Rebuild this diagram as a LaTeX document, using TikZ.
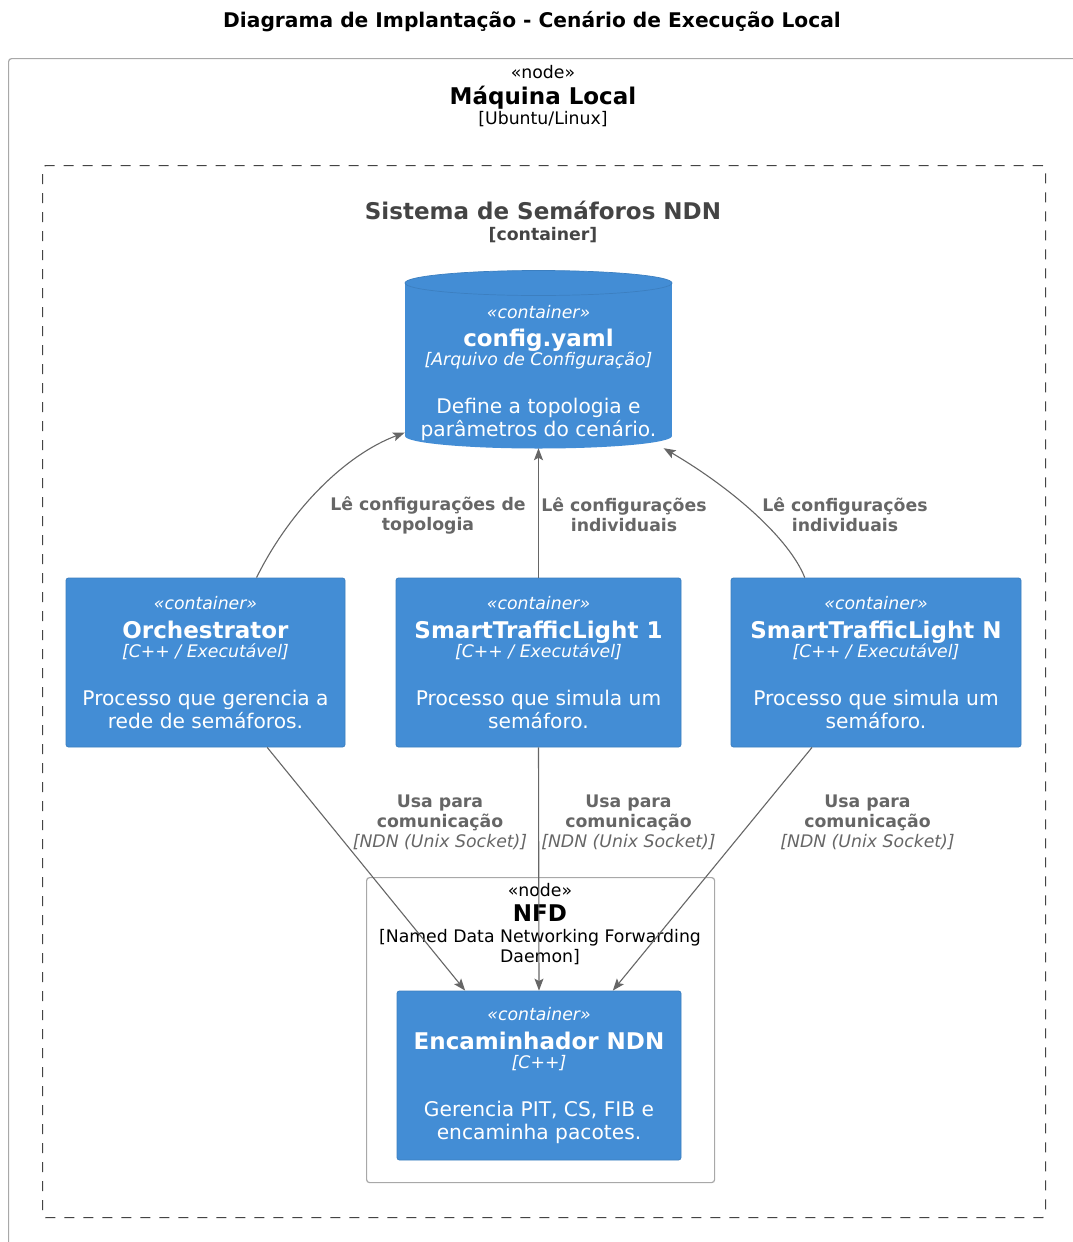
\documentclass[tikz,border=0pt]{standalone}
\usepackage{fontspec}
\setmainfont{DejaVu Sans}
\usetikzlibrary{arrows.meta}

\definecolor{c4blue}{HTML}{438DD5}
\definecolor{c4border}{HTML}{3C7FC0}
\definecolor{relgray}{HTML}{666666}
\definecolor{bndgray}{HTML}{444444}
\definecolor{nodegray}{HTML}{A8A8A8}

% font sizes: small (stereotypes, technology), body (descriptions), name (bold titles)
\newcommand\fsSmall{\fontsize{17.3}{20}\selectfont}
\newcommand\fsBody{\fontsize{20.2}{23}\selectfont}
\newcommand\fsName{\fontsize{23}{25}\selectfont}

% text block of a C4 container: name, technology, two description lines
\newcommand\ctrtext[4]{{\fsSmall\itshape «container»}\\[5.6pt]{\fsName\bfseries #1}\\[-4pt]{\fsSmall\itshape [#2]}\\[24.8pt]#3\\#4}

\begin{document}
\begin{tikzpicture}[x=1pt,y=-1pt,
  ctr/.style={rectangle, rounded corners=2.5pt, fill=c4blue, draw=c4border, line width=0.8pt,
    text=white, align=center, inner sep=0pt, minimum height=169pt, font=\fsBody},
  deploy/.style={rectangle, rounded corners=3pt, draw=nodegray, line width=1.2pt, inner sep=0pt},
  boundary/.style={rectangle, rounded corners=3pt, draw=bndgray, line width=1.2pt,
    dash pattern=on 10pt off 9pt, inner sep=0pt},
  rel/.style={draw=relgray, line width=1.1pt, -{Stealth[length=12pt,width=9pt,inset=2.5pt]}},
  rellabel/.style={text=relgray, align=center, inner sep=0pt, font=\fsSmall\bfseries},
  nodelabel/.style={align=center, inner sep=0pt, font=\fsBody}]

\useasboundingbox (0,0) rectangle (1073,1242);
\clip (0,0) rectangle (1073,1242);
\fill[white] (0,0) rectangle (1073,1242);

% title
\node[inner sep=0pt, font=\fontsize{20.2}{24}\selectfont\bfseries] (title) at (532,22)
  {Diagrama de Implantação - Cenário de Execução Local};

% deployment node: local machine
\node[deploy, minimum width=1100pt, minimum height=1220pt, anchor=north west] (maquina) at (8,58) {};
\node[nodelabel] (maquinalabel) at (543,96)
  {{\fsSmall «node»}\\[3pt]{\fsName\bfseries Máquina Local}\\[-3pt]{\fsSmall [Ubuntu/Linux]}};

% system boundary
\node[boundary, minimum width=1003pt, minimum height=1052pt, anchor=north west] (sistema) at (42,165) {};
\node[nodelabel, text=bndgray] (sistemalabel) at (543,222)
  {{\fsName\bfseries Sistema de Semáforos NDN}\\[-2pt]{\fsSmall\bfseries [container]}};

% deployment node: NFD
\node[deploy, minimum width=348pt, minimum height=305pt, anchor=north west] (nfd) at (366,877) {};
\node[nodelabel] (nfdlabel) at (540,924)
  {{\fsSmall «node»}\\[2pt]{\fsName\bfseries NFD}\\[-2pt]{\fsSmall [Named Data Networking Forwarding}\\[-3pt]{\fsSmall Daemon]}};

% configuration file drawn as a database cylinder
\fill[c4blue] (405,283) rectangle (672,436);
\fill[c4blue] (538.5,436) ellipse [x radius=133.5, y radius=12.5];
\fill[c4blue] (538.5,283) ellipse [x radius=133.5, y radius=12.5];
\draw[c4border, line width=0.7pt] (538.5,283) ellipse [x radius=133.5, y radius=12.5];
\node[align=center, text=white, inner sep=0pt, minimum width=267pt, minimum height=150pt, font=\fsBody] (cfg)
  at (538.5,373) {\ctrtext{config.yaml}{Arquivo de Configuração}{Define a topologia e}{parâmetros do cenário.}};

% containers
\node[ctr, minimum width=279pt] (orch) at (205.5,662.5)
  {\ctrtext{Orchestrator}{C++ / Executável}{Processo que gerencia a}{rede de semáforos.}};
\node[ctr, minimum width=285pt] (stl1) at (538.5,662.5)
  {\ctrtext{SmartTrafficLight 1}{C++ / Executável}{Processo que simula um}{semáforo.}};
\node[ctr, minimum width=290pt] (stln) at (876,662.5)
  {\ctrtext{SmartTrafficLight N}{C++ / Executável}{Processo que simula um}{semáforo.}};
\node[ctr, minimum width=284pt] (enc) at (539,1075.5)
  {\ctrtext{Encaminhador NDN}{C++}{Gerencia PIT, CS, FIB e}{encaminha pacotes.}};

% relations to the configuration file
\draw[rel] (orch.59.6) .. controls (290,510) and (345,455) .. (cfg.204.6);
\draw[rel] (stl1.north) -- (cfg.south);
\draw[rel] (stln.130) .. controls (790,540) and (735,490) .. (cfg.329.7);

% relations to the forwarder
\draw[rel] (orch.306) -- (enc.131.2);
\draw[rel] (stl1.south) -- (enc.north);
\draw[rel] (stln.233.3) -- (enc.49.6);

% relation labels
\node[rellabel] (lblcfg1) at (428,515) {Lê configurações de\\topologia};
\node[rellabel] (lblcfg2) at (624,515) {Lê configurações\\individuais};
\node[rellabel] (lblcfg3) at (845,515) {Lê configurações\\individuais};
\node[rellabel] (lblndn1) at (440,822) {Usa para\\comunicação\\{\mdseries\itshape [NDN (Unix Socket)]}};
\node[rellabel] (lblndn2) at (628.5,822) {Usa para\\comunicação\\{\mdseries\itshape [NDN (Unix Socket)]}};
\node[rellabel] (lblndn3) at (867.5,822) {Usa para\\comunicação\\{\mdseries\itshape [NDN (Unix Socket)]}};
\end{tikzpicture}
\end{document}
